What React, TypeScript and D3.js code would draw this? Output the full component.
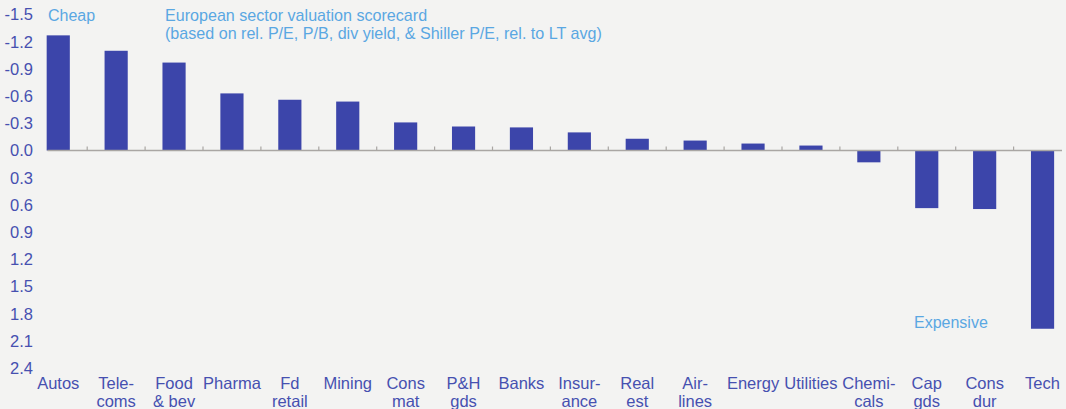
import React from "react";
import * as d3 from "d3";

const categories: string[][] = [
  ["Autos"], ["Tele-", "coms"], ["Food", "& bev"], ["Pharma"], ["Fd", "retail"],
  ["Mining"], ["Cons", "mat"], ["P&H", "gds"], ["Banks"], ["Insur-", "ance"],
  ["Real", "est"], ["Air-", "lines"], ["Energy"], ["Utilities"], ["Chemi-", "cals"],
  ["Cap", "gds"], ["Cons", "dur"], ["Tech"],
];
const scores: number[] = [
  -1.27, -1.1, -0.97, -0.63, -0.56, -0.54, -0.31, -0.265, -0.255, -0.2,
  -0.13, -0.11, -0.077, -0.055, 0.13, 0.635, 0.645, 1.965,
];
const yTicks: number[] = [-1.5, -1.2, -0.9, -0.6, -0.3, 0, 0.3, 0.6, 0.9, 1.2, 1.5, 1.8, 2.1, 2.4];
const titleLines = [
  "European sector valuation scorecard",
  "(based on rel. P/E, P/B, div yield, & Shiller P/E, rel. to LT avg)",
];

const W = 1066;
const H = 409;
const FONT = "'Liberation Sans', Arial, sans-serif";
const BAR = "#3c45aa";
const TXT = "#4650b0";
const NOTE = "#5aa7e2";

export default function App() {
  const keys = categories.map((c, i) => String(i));
  const x = d3.scaleBand<string>().domain(keys).range([29.3, 1071.5]).paddingInner(0.6).paddingOuter(0.3);
  const y = d3.scaleLinear().domain([-1.5, 2.4]).range([14.5, 368.2]);
  const step = x.step();
  const bw = x.bandwidth();
  const y0 = y(0);

  return (
    <svg width={W} height={H} style={{ position: "absolute", left: 0, top: 0, background: "#f3f3f2" }} fontFamily={FONT}>
      <rect x={0} y={0} width={W} height={H} fill="#f3f3f2" />
      {yTicks.map((t) => (
        <text key={t} x={33} y={y(t) + 5.8} textAnchor="end" fontSize={16.5} fill={TXT}>
          {t.toFixed(1)}
        </text>
      ))}
      {scores.map((v, i) => (
        <rect
          key={i}
          x={x(keys[i])!}
          width={bw}
          y={Math.min(y(v), y0)}
          height={Math.abs(y(v) - y0)}
          fill={BAR}
        />
      ))}
      <line x1={47.5} x2={1062} y1={y0} y2={y0} stroke="#a9a6a3" strokeWidth={1.5} />
      {keys.slice(0, -1).map((k) => {
        const tx = x(k)! + bw + (step * 0.6) / 2;
        return <line key={k} x1={tx} x2={tx} y1={y0 - 4} y2={y0} stroke="#a9a6a3" strokeWidth={1.2} />;
      })}
      {categories.map((lines, i) => (
        <text key={i} textAnchor="middle" fontSize={16.5} fill={TXT}>
          {lines.map((l, j) => (
            <tspan key={j} x={x(keys[i])! + bw / 2} y={388.5 + j * 18.5}>
              {l}
            </tspan>
          ))}
        </text>
      ))}
      <text x={48} y={20.5} fontSize={16} fill={NOTE}>Cheap</text>
      {titleLines.map((l, j) => (
        <text key={j} x={165} y={20.5 + j * 18.5} fontSize={16.1} fill={NOTE}>
          {l}
        </text>
      ))}
      <text x={914} y={328} fontSize={16} fill={NOTE}>Expensive</text>
    </svg>
  );
}
